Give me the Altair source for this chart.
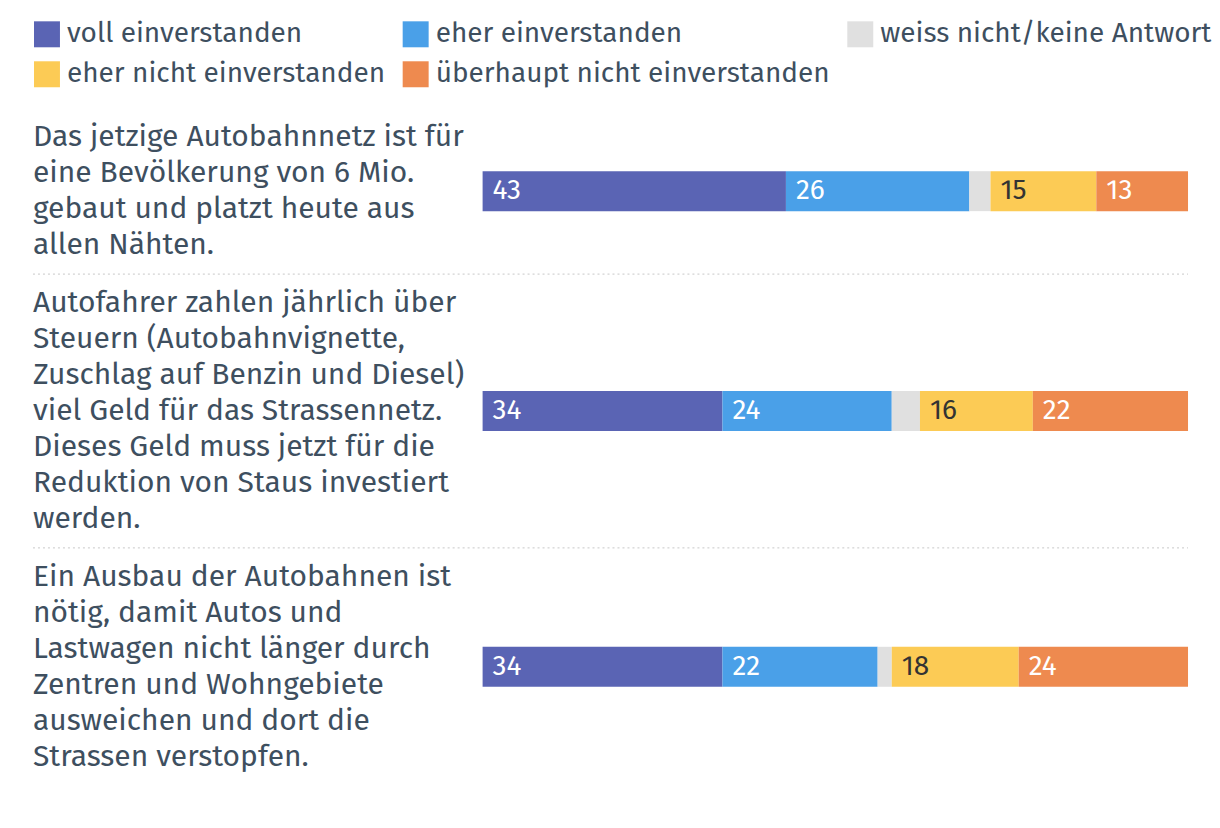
import altair as alt
import pandas as pd

categories = ["voll einverstanden", "eher einverstanden", "weiss nicht/keine Antwort",
              "eher nicht einverstanden", "überhaupt nicht einverstanden"]
colors = ["#5a64b4", "#4aa0e8", "#e0e0e0", "#fccb55", "#ee8a4f"]

statements = [
    "Das jetzige Autobahnnetz ist für\neine Bevölkerung von 6 Mio.\ngebaut und platzt heute aus\nallen Nähten.",
    "Autofahrer zahlen jährlich über\nSteuern (Autobahnvignette,\nZuschlag auf Benzin und Diesel)\nviel Geld für das Strassennetz.\nDieses Geld muss jetzt für die\nReduktion von Staus investiert\nwerden.",
    "Ein Ausbau der Autobahnen ist\nnötig, damit Autos und\nLastwagen nicht länger durch\nZentren und Wohngebiete\nausweichen und dort die\nStrassen verstopfen.",
]
values_1 = [43, 26, 3, 15, 13]
values_2 = [34, 24, 4, 16, 22]
values_3 = [34, 22, 2, 18, 24]
all_values = [values_1, values_2, values_3]

FONT = "Fira Sans, Noto Sans, sans-serif"
TEXT = "#3e4f5f"
FS = 30
VFS = 28
LH = 36
W = 1156

rows = []
for r, (s, vals) in enumerate(zip(statements, all_values)):
    acc = 0
    for k, (c, v) in enumerate(zip(categories, vals)):
        rows.append(dict(row=r, statement=s, category=c, idx=k, value=v,
                         start=acc, end=acc + v))
        acc += v
df = pd.DataFrame(rows)

xs = alt.Scale(domain=[0, 100], range=[450, W])
color = alt.Color("category:N", scale=alt.Scale(domain=categories, range=colors),
                  legend=alt.Legend(title=None, orient="top", columns=3,
                                    symbolType="square", symbolSize=676,
                                    symbolStrokeWidth=0, labelFontSize=28,
                                    labelFont=FONT, labelColor=TEXT, labelLimit=700,
                                    columnPadding=16, rowPadding=12, labelOffset=6,
                                    offset=20))


def make_row(r):
    d = df[df.row == r]
    nlines = statements[r].count("\n") + 1
    h = nlines * LH + 22
    base = alt.Chart(d)
    y = alt.Y("statement:N", axis=None)
    bars = base.mark_bar(size=40).encode(
        x=alt.X("start:Q", scale=xs, axis=None), x2="end:Q", y=y, color=color)
    white = base.transform_filter(
        "datum.idx == 0 || datum.idx == 1 || datum.idx == 4"
    ).mark_text(align="left", baseline="middle", dx=10, fontSize=VFS, font=FONT,
                color="white").encode(x=alt.X("start:Q", scale=xs, axis=None), y=y,
                                      text="value:Q")
    dark = base.transform_filter("datum.idx == 3").mark_text(
        align="left", baseline="middle", dx=10, fontSize=VFS, font=FONT,
        color="#333333").encode(x=alt.X("start:Q", scale=xs, axis=None), y=y,
                                text="value:Q")
    label = alt.Chart(d[d.idx == 0]).mark_text(
        align="left", baseline="middle", lineBreak="\n", lineHeight=LH,
        dy=-(nlines - 1) * LH / 2,
        fontSize=FS, font=FONT, color=TEXT).encode(x=alt.value(0), y=y,
                                                   text="statement:N")
    layers = [bars, white, dark, label]
    if r > 0:
        sep = alt.Chart(d[d.idx == 0]).mark_rule(
            strokeDash=[2, 3], color="#c8c8c8", strokeWidth=1).encode(
            x=alt.value(0), x2=alt.value(W), y=alt.value(0))
        layers.append(sep)
    return alt.layer(*layers).properties(width=W, height=h)


chart = alt.vconcat(*[make_row(r) for r in range(3)], spacing=0, bounds="flush").resolve_scale(
    color="shared", x="shared"
).properties(
    padding={"left": 24, "top": 12, "right": 0, "bottom": 5}
).configure_view(stroke=None)

chart.save("out.html", embed_options={"renderer": "svg", "actions": False})
